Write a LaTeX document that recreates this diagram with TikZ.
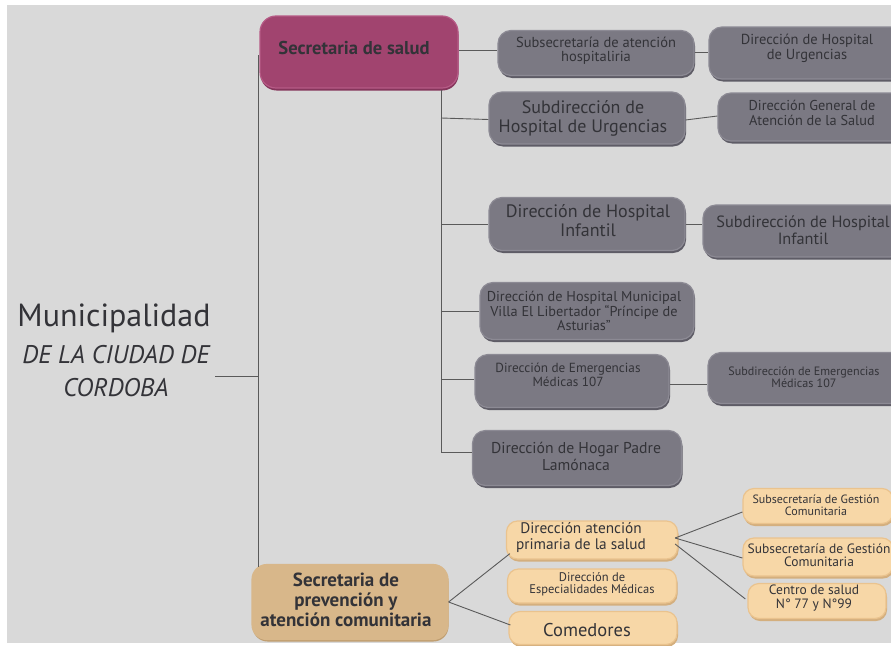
\documentclass[tikz,border=0pt]{standalone}
\usepackage{fontspec}
\setmainfont{PT Sans}
\usetikzlibrary{shadows,calc}
\definecolor{bg}{HTML}{D9D9D9}
\definecolor{gfill}{HTML}{7B7983}
\definecolor{gline}{HTML}{8C8A94}
\definecolor{gshad}{HTML}{5E5C66}
\definecolor{mfill}{HTML}{A1446F}
\definecolor{mline}{HTML}{B65A86}
\definecolor{mshad}{HTML}{85355B}
\definecolor{tfill}{HTML}{D8B78A}
\definecolor{tshad}{HTML}{C09E70}
\definecolor{pfill}{HTML}{F7D7A7}
\definecolor{pline}{HTML}{EAC38E}
\definecolor{pshad}{HTML}{D4AF7E}
\definecolor{txt}{HTML}{333338}
\definecolor{conn}{HTML}{5A5A5A}
\tikzset{
  base/.style={rounded corners=13pt, inner sep=0pt, line width=1.2pt},
  gbox/.style={base, fill=gfill, draw=gline, drop shadow={shadow xshift=1pt, shadow yshift=-2.5pt, fill=gshad, opacity=1}},
  mbox/.style={base, rounded corners=16pt, fill=mfill, draw=mline, drop shadow={shadow xshift=0.5pt, shadow yshift=-2.5pt, fill=mshad, opacity=1}},
  tbox/.style={base, rounded corners=15pt, fill=tfill, draw=tfill, drop shadow={shadow xshift=0.5pt, shadow yshift=-2pt, fill=tshad, opacity=1}},
  pbox/.style={base, rounded corners=11pt, fill=pfill, draw=pline, drop shadow={shadow xshift=1pt, shadow yshift=-2.5pt, fill=pshad, opacity=1}},
  lbl/.style={text=txt, align=center, inner sep=0pt},
  link/.style={draw=conn, line width=0.9pt},
}
\begin{document}
\begin{tikzpicture}[x=1pt,y=-1pt]
\useasboundingbox (0,0) rectangle (891,645);
\clip (0,0) rectangle (891,645);
\fill[white] (0,0) rectangle (891,645);
\fill[bg] (7,5) rectangle (895,643);

% left title
\node[lbl, font=\fontsize{32}{36}\selectfont] (muni) at (114,318) {Municipalidad};
\node[lbl, font=\itshape\fontsize{25.5}{28}\selectfont] (muni2) at (116,355) {DE LA CIUDAD DE};
\node[lbl, font=\itshape\fontsize{25.5}{28}\selectfont] (muni3) at (116,388) {CORDOBA};

% boxes (centre, size)
\node[mbox, minimum width=198pt, minimum height=72pt] (sal) at (359,52) {};
\node[lbl, font=\bfseries\fontsize{18.6}{20}\selectfont] (salt) at (354,48) {Secretaria de salud};

\node[gbox, minimum width=196pt, minimum height=45pt] (sub1) at (596,53) {};
\node[lbl, font=\fontsize{14.5}{14}\selectfont] (sub1t) at (596,51) {Subsecretaría de atención\\hospitaliria};

\node[gbox, minimum width=200pt, minimum height=52pt] (dhu) at (809,53) {};
\node[lbl, font=\fontsize{14.5}{15}\selectfont] (dhut) at (807,48) {Dirección de Hospital\\de Urgencias};

\node[gbox, minimum width=196pt, minimum height=52pt] (shu) at (587,118) {};
\node[lbl, font=\fontsize{18}{19}\selectfont] (shut) at (583,118) {Subdirección de\\Hospital de Urgencias};

\node[gbox, minimum width=190pt, minimum height=48pt] (dgas) at (813,117) {};
\node[lbl, font=\fontsize{14.3}{15}\selectfont] (dgast) at (812,113) {Dirección General de\\Atención de la Salud};

\node[gbox, minimum width=196pt, minimum height=53pt] (dhi) at (587,224) {};
\node[lbl, font=\fontsize{18}{19}\selectfont] (dhit) at (588,221) {Dirección de Hospital\\Infantil};

\node[gbox, minimum width=200pt, minimum height=52pt] (shi) at (803,231) {};
\node[lbl, font=\fontsize{16.3}{17}\selectfont] (shit) at (803,230) {Subdirección de Hospital\\Infantil};

\node[gbox, minimum width=214pt, minimum height=57pt] (vel) at (587,311) {};
\node[lbl, font=\fontsize{14.3}{14.5}\selectfont] (velt) at (584,311) {Dirección de Hospital Municipal\\Villa El Libertador “Príncipe de\\Asturias”};

\node[gbox, minimum width=194pt, minimum height=53pt] (dem) at (572,381) {};
\node[lbl, font=\fontsize{13.2}{14}\selectfont] (demt) at (568,375) {Dirección de Emergencias\\Médicas 107};

\node[gbox, minimum width=196pt, minimum height=51pt] (sem) at (806,378) {};
\node[lbl, font=\fontsize{12.1}{12.5}\selectfont] (semt) at (804,377) {Subdirección de Emergencias\\Médicas 107};

\node[gbox, minimum width=209pt, minimum height=55pt] (hog) at (577,458) {};
\node[lbl, font=\fontsize{15.7}{17}\selectfont] (hogt) at (576,456) {Dirección de Hogar Padre\\Lamónaca};

% prevention branch
\node[tbox, minimum width=196pt, minimum height=75pt] (prev) at (350,602) {};
\node[lbl, font=\bfseries\fontsize{19}{20}\selectfont] (prevt) at (346,600) {Secretaria de\\prevención y\\atención comunitaria};

\node[pbox, minimum width=171pt, minimum height=38pt] (dap) at (592,540) {};
\node[lbl, font=\fontsize{15.3}{16}\selectfont] (dapt) at (581,538) {Dirección atención\\primaria de la salud};

\node[pbox, minimum width=169pt, minimum height=34pt] (des) at (592,586) {};
\node[lbl, font=\fontsize{12.5}{12.5}\selectfont] (dest) at (592,584) {Dirección de\\Especialidades Médicas};

\node[pbox, minimum width=168pt, minimum height=33pt] (com) at (593,628) {};
\node[lbl, font=\fontsize{18.5}{19}\selectfont] (comt) at (587,630) {Comedores};

\node[pbox, minimum width=150pt, minimum height=35pt] (gc1) at (818,506) {};
\node[lbl, font=\fontsize{12}{12.5}\selectfont] (gc1t) at (816,505) {Subsecretaría de Gestión\\Comunitaria};

\node[pbox, minimum width=150pt, minimum height=38pt] (gc2) at (818,557) {};
\node[lbl, font=\fontsize{13.5}{13.5}\selectfont] (gc2t) at (819,555) {Subsecretaría de Gestión\\Comunitaria};

\node[pbox, minimum width=138pt, minimum height=35pt] (cs) at (817,601) {};
\node[lbl, font=\fontsize{13.5}{13.5}\selectfont] (cst) at (814,598) {Centro de salud\\N° 77 y N°99};

% connectors
\coordinate (m1) at (258,55);
\coordinate (m2) at (258,567);
\coordinate (mt) at (215,376);
\draw[link] (m1) -- (m2);
\draw[link] (mt) -- (mt -| m1);

\coordinate (s1) at (441,90);
\coordinate (s2) at (441,452);
\draw[link] (s1) -- (s2);
\draw[link] (s1 |- shu.west) -- ($(shu.west)+(0,1.5)$);
\draw[link] (s1 |- dhi.west) -- (dhi.west);
\draw[link] (s1 |- vel.west) -- (vel.west);
\draw[link] ($(s1 |- dem.west)+(0,-2)$) -- ($(dem.west)+(0,-2)$);
\draw[link] (s2) -- (s2 -| hog.west);

\draw[link] ($(sal.east)+(0,-2)$) -- ($(sub1.west)+(0,-3)$);
\draw[link] ($(sub1.east)+(0,-1)$) -- ($(dhu.west)+(0,-1)$);
\draw[link] ($(shu.east)+(0,2)$) -- ($(dgas.west)+(0,-1)$);
\draw[link] (dhi.east) -- ($(shi.west)+(0,-7)$);
\draw[link] ($(dem.east)+(0,3)$) -- ($(sem.west)+(0,6)$);

\draw[link] (prev.east) -- ($(dap.south west)+(4,-6)$);
\draw[link] (prev.east) -- ($(com.west)+(2,-3)$);
\draw[link] ($(dap.east)+(-3,-2)$) -- ($(gc1.west)+(0,6)$);
\draw[link] ($(dap.east)+(-3,-2)$) -- ($(gc2.west)+(0,1)$);
\draw[link] ($(dap.east)+(-3,4)$) -- ($(cs.west)+(-2,-2)$);
\end{tikzpicture}
\end{document}
